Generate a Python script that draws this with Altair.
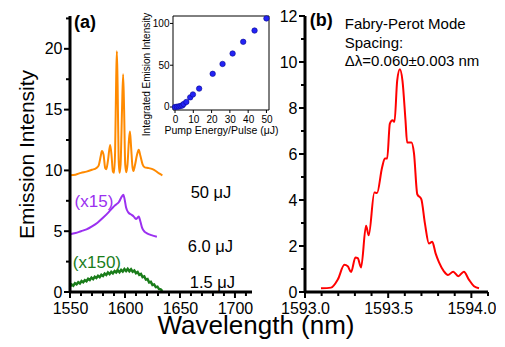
import altair as alt
import pandas as pd

FONT = "Liberation Sans"
H = 276
WA = 182
WB = 183

# ---------------- Panel (a) spectra ----------------
orange_wl = [1550, 1555, 1560, 1565, 1570, 1574, 1576, 1578, 1579, 1580.5, 1582, 1583, 1584.5,
             1586.5, 1587.8, 1589, 1590, 1591, 1592, 1592.6, 1593.3, 1594.2, 1595, 1596, 1597.3,
             1598.3, 1599.2, 1600.2, 1601.2, 1602.3, 1603.6, 1604.5, 1605.5, 1606.8, 1607.7, 1609,
             1611, 1612.5, 1614, 1616, 1618, 1621, 1625, 1628, 1631, 1634]
orange_int = [9.6, 9.65, 9.8, 9.9, 10.05, 10.2, 10.4, 11.2, 11.6, 11.3, 10.2, 10.1, 10.8,
              12.1, 11.2, 9.9, 9.8, 11.5, 17.5, 19.8, 17.0, 11.0, 9.8, 10.5, 15.0,
              17.9, 15.0, 10.5, 9.85, 10.5, 12.5, 13.2, 12.0, 10.3, 9.95, 10.4,
              11.3, 11.7, 11.2, 10.5, 10.25, 10.2, 10.1, 9.95, 9.75, 9.6]
purple_wl = [1550, 1555, 1560, 1565, 1570, 1575, 1580, 1585, 1589, 1592, 1594.5, 1596.5, 1598.5,
             1599.5, 1601, 1603, 1606, 1608, 1610, 1612.5, 1614, 1615.5, 1618, 1620, 1624, 1629]
purple_int = [4.75, 4.85, 5.0, 5.15, 5.4, 5.7, 6.1, 6.55, 6.95, 7.2, 7.4, 7.75, 8.0,
              7.7, 6.95, 6.55, 6.35, 6.2, 6.0, 6.2, 5.8, 5.3, 4.95, 4.83, 4.68, 4.55]
green_wl = [1550, 1551.5, 1553, 1554.5, 1556, 1557.5, 1559, 1560.5, 1562, 1563.5, 1565, 1566.5,
            1568, 1569.5, 1571, 1572.5, 1574, 1575.5, 1577, 1578.5, 1580, 1581.5, 1583, 1584.5,
            1586, 1587.5, 1589, 1590.5, 1592, 1593.5, 1595, 1596.5, 1598, 1599.5, 1601, 1602.5,
            1604, 1605.5, 1607, 1608.5, 1610, 1611.5, 1613, 1614.5, 1616, 1617.5, 1619, 1620.5,
            1622, 1623.5, 1625, 1626.5, 1628, 1629.5, 1631, 1632.5, 1634]
green_int = [0.45, 0.62, 0.52, 0.72, 0.63, 0.80, 0.70, 0.90, 0.80, 0.97, 0.88, 1.08,
             0.98, 1.18, 1.06, 1.25, 1.15, 1.33, 1.22, 1.42, 1.32, 1.52, 1.40, 1.60,
             1.47, 1.66, 1.53, 1.72, 1.60, 1.77, 1.63, 1.82, 1.68, 1.88, 1.72, 1.90,
             1.71, 1.86, 1.66, 1.76, 1.55, 1.64, 1.41, 1.48, 1.22, 1.28, 1.02, 1.06,
             0.78, 0.83, 0.58, 0.62, 0.40, 0.44, 0.24, 0.22, 0.08]

# ---------------- Inset ----------------
pump_energy = [0, 1, 2, 3, 4, 4.7, 6.2, 8.3, 9.8, 13.2, 20.6, 26, 31.5, 37.3, 43.5, 50]
integrated = [0, 0.3, 0.6, 1.2, 1.8, 3.5, 6, 11.5, 15, 22, 39.7, 51.5, 64, 78, 91.5, 106]
inset_xticks = [0, 10, 20, 30, 40, 50]
inset_yticks = [0, 50, 100]

# ---------------- Panel (b) spectrum ----------------
red_wl = [1593.096, 1593.157, 1593.197, 1593.237, 1593.257, 1593.277, 1593.303, 1593.317,
          1593.337, 1593.367, 1593.383, 1593.417, 1593.433, 1593.463, 1593.480, 1593.494,
          1593.510, 1593.526, 1593.538, 1593.554, 1593.570, 1593.586, 1593.604, 1593.614,
          1593.640, 1593.655, 1593.675, 1593.699, 1593.721, 1593.745, 1593.765, 1593.785,
          1593.805, 1593.835, 1593.859, 1593.891, 1593.921, 1593.955, 1593.985, 1594.016, 1594.046]
red_int = [0.16, 0.19, 0.54, 1.18, 1.12, 0.87, 1.50, 1.47, 1.07, 2.88, 2.47, 4.33, 4.30, 5.40,
           5.80, 5.80, 7.32, 7.47, 7.40, 9.18, 9.68, 9.18, 7.47, 6.50, 6.50, 6.04, 4.25, 4.04,
           2.97, 2.11, 2.18, 1.68, 1.30, 0.90, 0.74, 0.88, 0.69, 0.88, 0.54, 0.25, 0.16]

# tick values
a_xmajor = [1550, 1600, 1650, 1700]
a_xminor = [1560, 1570, 1580, 1590, 1610, 1620, 1630, 1640, 1660, 1670, 1680, 1690, 1710]
a_ymajor = [0, 5, 10, 15, 20]
a_yminor = [2.5, 7.5, 12.5, 17.5, 22.5]
b_xmajor = [1593.0, 1593.5, 1594.0]
b_xminor = [1593.1, 1593.2, 1593.3, 1593.4, 1593.6, 1593.7, 1593.8, 1593.9, 1594.1]
b_ymajor = [0, 2, 4, 6, 8, 10, 12]
b_yminor = [1, 3, 5, 7, 9, 11]


def main_axis(values, fmt, title=None, **kw):
    return alt.Axis(values=values, format=fmt, domain=False, ticks=False,
                    labelFont=FONT, labelFontSize=16, labelColor="black", labelPadding=8,
                    labelOverlap=False, labelFlush=False, grid=False, title=title,
                    titleFont=FONT, titleFontSize=21, titleFontWeight="normal",
                    titleColor="black", **kw)


def frame_layers(X, Y, xmin, xmax, ymin, ymax, xmaj, xmin_t, ymaj, ymin_t):
    """Axis lines (filled rects) and outward ticks (tick marks) through the panel's scales."""
    dom_x = alt.Chart(pd.DataFrame({"x": [xmin], "x2": [xmax]})).mark_rect(color="black").encode(
        x=X, x2=alt.X2("x2:Q"), y=alt.value(H - 1.5), y2=alt.value(H + 1.5))
    dom_y = alt.Chart(pd.DataFrame({"y": [ymin], "y2": [ymax]})).mark_rect(color="black").encode(
        y=Y, y2=alt.Y2("y2:Q"), x=alt.value(-1.5), x2=alt.value(1.5))
    tx1 = alt.Chart(pd.DataFrame({"x": xmaj})).mark_tick(
        color="black", size=6, thickness=2, opacity=1).encode(x=X, y=alt.value(H + 3))
    tx2 = alt.Chart(pd.DataFrame({"x": xmin_t})).mark_tick(
        color="black", size=4, thickness=2, opacity=1).encode(x=X, y=alt.value(H + 2))
    ty1 = alt.Chart(pd.DataFrame({"y": ymaj})).mark_tick(
        color="black", size=6, thickness=2, opacity=1).encode(y=Y, x=alt.value(-3))
    ty2 = alt.Chart(pd.DataFrame({"y": ymin_t})).mark_tick(
        color="black", size=4, thickness=2, opacity=1).encode(y=Y, x=alt.value(-2))
    return [dom_x, dom_y, tx1, tx2, ty1, ty2]


xA = alt.X("x:Q", scale=alt.Scale(domain=[1550, 1715.5], nice=False, zero=False),
           axis=main_axis(a_xmajor, "d"))
yA = alt.Y("y:Q", scale=alt.Scale(domain=[0, 22.7], nice=False, zero=False),
           axis=main_axis(a_ymajor, "d", title="Emission Intensity", titlePadding=7))

orange = alt.Chart(pd.DataFrame({"x": orange_wl, "y": orange_int})).mark_line(
    color="#ff8a00", strokeWidth=2, interpolate="monotone").encode(x=xA, y=yA)
purple = alt.Chart(pd.DataFrame({"x": purple_wl, "y": purple_int})).mark_line(
    color="#9b30f0", strokeWidth=2, interpolate="monotone").encode(x=xA, y=yA)
green = alt.Chart(pd.DataFrame({"x": green_wl, "y": green_int})).mark_line(
    color="#1a7d1a", strokeWidth=2.5).encode(x=xA, y=yA)

black_lbl = pd.DataFrame({"x": [1678.2, 1677.7, 1679.5], "y": [8.16, 3.67, 0.73],
                          "label": ["50 μJ", "6.0 μJ", "1.5 μJ"]})
t_black = alt.Chart(black_lbl).mark_text(font=FONT, fontSize=16.5, color="black",
                                         align="center", baseline="middle").encode(
    x=xA, y=yA, text="label:N")
t_purple = alt.Chart(pd.DataFrame({"x": [1571.8], "y": [7.37], "label": ["(x15)"]})).mark_text(
    font=FONT, fontSize=17, color="#9b30f0", align="center", baseline="middle").encode(
    x=xA, y=yA, text="label:N")
t_green = alt.Chart(pd.DataFrame({"x": [1574.5], "y": [2.39], "label": ["(x150)"]})).mark_text(
    font=FONT, fontSize=17, color="#1a7d1a", align="center", baseline="middle").encode(
    x=xA, y=yA, text="label:N")
t_a = alt.Chart(pd.DataFrame({"x": [1553.6], "y": [22.15], "label": ["(a)"]})).mark_text(
    font=FONT, fontSize=18, fontWeight="bold", color="black", align="left",
    baseline="middle").encode(x=xA, y=yA, text="label:N")

main_a = alt.layer(orange, purple, green, t_black, t_purple, t_green, t_a,
                   *frame_layers(xA, yA, 1550, 1715.5, 0, 22.7,
                                 a_xmajor, a_xminor, a_ymajor, a_yminor))

# inset (own scales placed inside panel (a))
in_axis_common = dict(domain=False, ticks=False, labelFont=FONT, labelFontSize=10,
                      labelColor="black", labelPadding=4, labelFlush=False, grid=False,
                      titleFont=FONT, titleFontWeight="normal", titleColor="black")
xI = alt.X("pump:Q", scale=alt.Scale(domain=[-1.1, 51.4], range=[103, 199], nice=False, zero=False),
           axis=alt.Axis(orient="bottom", offset=94 - H, values=inset_xticks,
                         title="Pump Energy/Pulse (μJ)", titleFontSize=10.5, titlePadding=1,
                         **in_axis_common))
yI = alt.Y("integ:Q", scale=alt.Scale(domain=[-3.6, 108.9], range=[94, 0], nice=False, zero=False),
           axis=alt.Axis(orient="left", offset=-103, values=inset_yticks,
                         title="Integrated Emision Intensity", titleFontSize=10, titlePadding=1,
                         titleY=58, **in_axis_common))

inset_pts = alt.Chart(pd.DataFrame({"pump": pump_energy, "integ": integrated})).mark_circle(
    size=30, color="#2323f5", stroke="#0a0a90", strokeWidth=0.6, opacity=1).encode(x=xI, y=yI)
inset_frame = alt.Chart(pd.DataFrame({"pump": [-1.1], "pump2": [51.4],
                                      "integ": [-3.6], "integ2": [108.9]})).mark_rect(
    fillOpacity=0, stroke="black", strokeWidth=1).encode(x=xI, x2="pump2:Q", y=yI, y2="integ2:Q")
inset_tx = alt.Chart(pd.DataFrame({"pump": inset_xticks})).mark_tick(
    color="black", size=3, thickness=1, opacity=1).encode(x=xI, y=alt.value(95.5))
inset_ty = alt.Chart(pd.DataFrame({"integ": inset_yticks})).mark_tick(
    color="black", size=3, thickness=1, opacity=1).encode(y=yI, x=alt.value(101.5))
inset = alt.layer(inset_frame, inset_tx, inset_ty, inset_pts)

panel_a = alt.layer(main_a, inset).resolve_scale(x="independent", y="independent").properties(
    width=WA, height=H)

# ---------------- Panel (b) ----------------
xB = alt.X("x:Q", scale=alt.Scale(domain=[1593.0, 1594.1], nice=False, zero=False),
           axis=main_axis(b_xmajor, ".1f"))
yB = alt.Y("y:Q", scale=alt.Scale(domain=[0, 12], nice=False, zero=False),
           axis=main_axis(b_ymajor, "d"))

red = alt.Chart(pd.DataFrame({"x": red_wl, "y": red_int})).mark_line(
    color="#ff0000", strokeWidth=2, interpolate="monotone").encode(x=xB, y=yB)
t_b = alt.Chart(pd.DataFrame({"x": [1593.028], "y": [11.77], "label": ["(b)"]})).mark_text(
    font=FONT, fontSize=18, fontWeight="bold", color="black", align="left",
    baseline="middle").encode(x=xB, y=yB, text="label:N")
fp_lines = pd.DataFrame({"x": [1593.239, 1593.239, 1593.239], "y": [11.45, 10.62, 9.81],
                         "label": ["Fabry-Perot Mode", "Spacing:", "Δλ=0.060±0.003 nm"]})
t_fp = alt.Chart(fp_lines).mark_text(font=FONT, fontSize=15, color="black", align="left",
                                     baseline="alphabetic").encode(x=xB, y=yB, text="label:N")

panel_b = alt.layer(red, t_b, t_fp,
                    *frame_layers(xB, yB, 1593.0, 1594.1, 0, 12,
                                  b_xmajor, b_xminor, b_ymajor, b_yminor)).properties(
    width=WB, height=H)

chart = alt.hconcat(panel_a, panel_b, spacing=0).properties(
    title=alt.TitleParams(text="Wavelength (nm)", orient="bottom", anchor="middle",
                          font=FONT, fontSize=26, fontWeight="normal", color="black", offset=-3)
).configure(padding={"left": 8, "top": 0, "right": 0, "bottom": 0}).configure_view(stroke=None)

chart.save("out.html", embed_options={"renderer": "svg", "actions": False})
